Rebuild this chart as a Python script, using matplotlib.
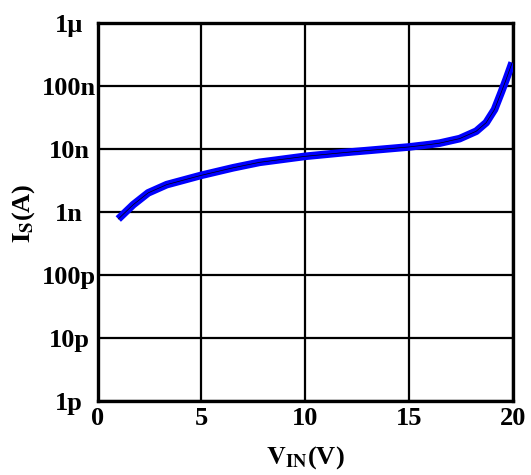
import numpy as np
import matplotlib
matplotlib.use("Agg")
import matplotlib.pyplot as plt
from matplotlib.ticker import FixedLocator, NullLocator

v_in = [1.0, 1.72, 2.44, 3.33, 5.0, 6.53, 7.8, 10.0, 12.0, 15.0, 16.0, 16.47, 17.43, 18.23, 18.71, 19.11, 19.43, 19.67, 19.96]
i_s = [0.77e-9, 1.3e-9, 2.0e-9, 2.7e-9, 3.8e-9, 5.0e-9, 6.1e-9, 7.6e-9, 8.8e-9, 10.7e-9, 11.7e-9, 12.3e-9, 14.5e-9, 19e-9, 26e-9, 42e-9, 78e-9, 126e-9, 233e-9]

y_ticks = [1e-12, 1e-11, 1e-10, 1e-9, 1e-8, 1e-7, 1e-6]
y_labels = ["1p", "10p", "100p", "1n", "10n", "100n", "1\u00b5"]
x_ticks = [0, 5, 10, 15, 20]
x_labels = ["0", "5", "10", "15", "20"]

plt.rcParams['font.family'] = ['Liberation Serif', 'DejaVu Serif']
plt.rcParams['mathtext.fontset'] = 'stix'
fig = plt.figure(figsize=(5.31, 4.75), dpi=100)
ax = fig.add_axes([97.5/531, 1-401/475, (513-97.5)/531, (401-22.7)/475])
ax.set_yscale('log')
ax.set_xlim(0, 20)
ax.set_ylim(1e-12, 1e-6)
ax.yaxis.set_major_locator(FixedLocator(y_ticks))
ax.yaxis.set_minor_locator(NullLocator())
ax.set_yticks(y_ticks)
ax.set_yticklabels(y_labels)
ax.set_xticks(x_ticks)
ax.set_xticklabels(x_labels)
ax.tick_params(length=0, labelsize=19)
ax.tick_params(axis='y', pad=20.5)
ax.tick_params(axis='x', pad=4)
for lab in ax.get_xticklabels() + ax.get_yticklabels():
    lab.set_fontweight('bold')
for lab in ax.get_yticklabels():
    lab.set_horizontalalignment('center')
ax.grid(True, color='black', linewidth=1.6)
for s in ax.spines.values():
    s.set_linewidth(2.4)
ax.plot(v_in, i_s, color='#0000ff', linewidth=5.5, solid_capstyle='butt', solid_joinstyle='round', zorder=3)
ax.plot(v_in, i_s, color='black', linewidth=0.5, zorder=4)
fig.text(305/531, 1-458/475, r"$\mathbf{V}_{\mathbf{IN}}$(V)", fontsize=19, fontweight='bold',
         ha='center', va='center')
fig.text(24/531, 1-213/475, r"$\mathbf{I}_{\mathbf{S}}$(A)", fontsize=19, fontweight='bold',
         ha='center', va='center', rotation=90)
fig.savefig("out.png", dpi=100)
